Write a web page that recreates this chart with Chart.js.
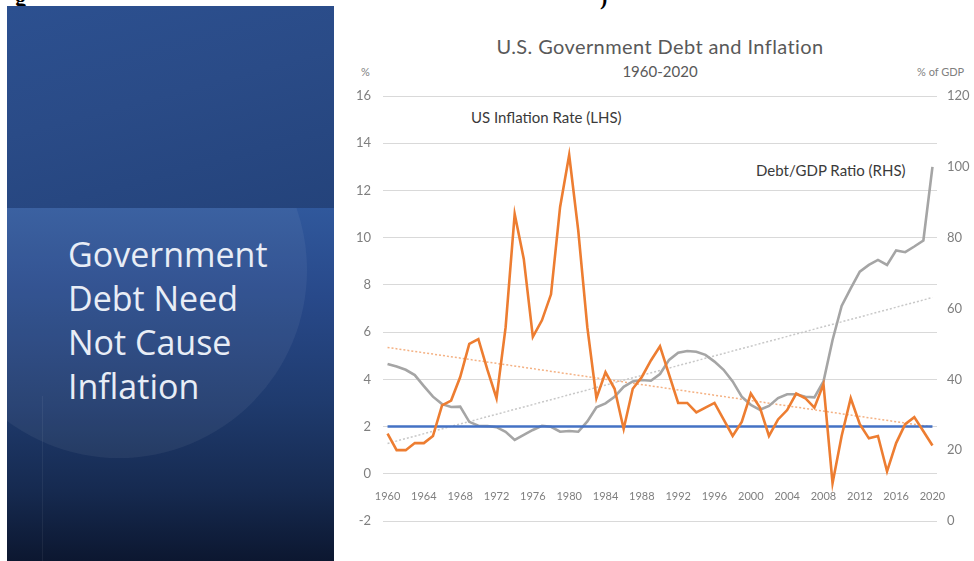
<!DOCTYPE html>
<html>
<head>
<meta charset="utf-8">
<title>U.S. Government Debt and Inflation</title>
<script src="https://cdn.jsdelivr.net/npm/chart.js@4.4.1/dist/chart.umd.min.js"></script>
<style>
    html, body { margin: 0; padding: 0; background: #fff; }
    body { width: 974px; height: 561px; position: relative; overflow: hidden; font-family: Lato, 'Open Sans', sans-serif; }
    .frag { position: absolute; top: -15px; font: bold 22px 'Liberation Serif', serif; color: #000; }
    .slide { position: absolute; left: 7px; top: 6px; width: 327px; height: 555px; overflow: hidden; }
    .slide .upper { position: absolute; left: 0; top: 0; width: 100%; height: 202px;
        background: linear-gradient(165deg, #2c5090 0%, #2a4b87 45%, #24437b 100%); }
    .slide .lower { position: absolute; left: 0; top: 202px; width: 100%; height: 353px; overflow: hidden;
        background: linear-gradient(to bottom, #30589c 0%, #28498a 25%, #1f3b6e 55%, #162a50 80%, #0c1730 100%); }
    .slide .circle { position: absolute; left: -76px; top: -126px; width: 376px; height: 376px; border-radius: 50%;
        background: rgba(255, 255, 255, 0.055); }
    .slide .strip { position: absolute; left: 35px; top: 390px; width: 1px; height: 165px;
        background: rgba(255, 255, 255, 0.06); }
    .slide-title { position: absolute; left: 61px; top: 226px; color: #e8edf6;
        font: 34px/44px 'Open Sans', sans-serif; }
    .txt { position: absolute; white-space: nowrap; }
    .title { left: 660px; top: 34px; transform: translateX(-50%); font-size: 20px; letter-spacing: 0.4px; color: #595959; }
    .subtitle { left: 660px; top: 62px; transform: translateX(-50%); font-size: 15px; color: #595959; }
    .unit { font-size: 11px; color: #7f7f7f; top: 65px; }
    .note { font-size: 15px; color: #3a3a3a; }
    #chartBox { position: absolute; left: 340px; top: 0; width: 634px; height: 561px; }
</style>
</head>
<body>
<div class="frag" style="left: 15px;">g</div>
<div class="frag" style="left: 600px;">)</div>

<div class="slide">
    <div class="upper"></div>
    <div class="lower"><div class="circle"></div></div>
    <div class="strip"></div>
    <div class="slide-title">Government<br>Debt Need<br>Not Cause<br>Inflation</div>
</div>

<div class="txt title">U.S. Government Debt and Inflation</div>
<div class="txt subtitle">1960-2020</div>
<div class="txt unit" style="left: 361px;">%</div>
<div class="txt unit" style="left: 917px;">% of GDP</div>
<div class="txt note" style="left: 471px; top: 108px;">US Inflation Rate (LHS)</div>
<div class="txt note" style="left: 756px; top: 161px;">Debt/GDP Ratio (RHS)</div>

<div id="chartBox"><canvas id="debt-inflation" width="634" height="561"></canvas></div>

<script>
// years on the category axis, 1960 .. 2020
const years = Array.from({ length: 61 }, (_, i) => String(1960 + i));

// annual CPI inflation, %
const inflationRate = [
    1.7, 1.0, 1.0, 1.3, 1.3, 1.6, 2.9, 3.1, 4.1, 5.5,
    5.7, 4.4, 3.2, 6.2, 11.0, 9.1, 5.8, 6.5, 7.6, 11.3,
    13.5, 10.3, 6.2, 3.2, 4.3, 3.6, 1.9, 3.6, 4.1, 4.8,
    5.4, 4.2, 3.0, 3.0, 2.6, 2.8, 3.0, 2.3, 1.6, 2.2,
    3.4, 2.8, 1.6, 2.3, 2.7, 3.4, 3.2, 2.8, 3.8, -0.4,
    1.6, 3.2, 2.1, 1.5, 1.6, 0.1, 1.3, 2.1, 2.4, 1.8,
    1.2
];

// federal debt held by the public, % of GDP
const debtToGdp = [
    44.3, 43.6, 42.7, 41.2, 38.1, 35.1, 33.0, 32.2, 32.3, 28.0,
    26.9, 26.8, 26.5, 25.2, 22.9, 24.3, 25.7, 26.9, 26.6, 25.2,
    25.4, 25.2, 28.1, 32.1, 33.2, 35.1, 37.9, 39.4, 39.8, 39.6,
    41.5, 45.5, 47.5, 48.0, 47.8, 46.9, 45.0, 42.7, 39.4, 35.1,
    32.8, 31.4, 32.5, 34.7, 35.8, 35.8, 35.1, 34.9, 39.4, 51.1,
    60.7, 65.7, 70.4, 72.3, 73.7, 72.3, 76.4, 75.9, 77.5, 79.2,
    100.0
];

// linear trend lines, value at 1960 and at 2020
const inflationTrendEnds = [5.35, 1.98];
const debtTrendEnds = [21.9, 63.1];

// 2% inflation target
const targetRate = 2;

const leftTicks = [-2, 16, 2];    // min, max, step
const rightTicks = [0, 120, 20];

function trendSeries(ends) {
    return years.map((_, i) => i === 0 ? ends[0] : (i === years.length - 1 ? ends[1] : null));
}

const tickFont = { family: 'Lato', size: 13 };

new Chart(document.getElementById('debt-inflation').getContext('2d'), {
    type: 'line',
    data: {
        labels: years,
        datasets: [
            {
                label: 'US Inflation Rate (LHS)',
                data: inflationRate,
                yAxisID: 'y',
                borderColor: '#ED7D31',
                borderWidth: 2.6,
                order: 1
            },
            {
                label: 'Target',
                data: years.map(() => targetRate),
                yAxisID: 'y',
                borderColor: '#4472C4',
                borderWidth: 2.6,
                order: 2
            },
            {
                label: 'Debt/GDP Ratio (RHS)',
                data: debtToGdp,
                yAxisID: 'y1',
                borderColor: '#A5A5A5',
                borderWidth: 2.6,
                order: 3
            },
            {
                label: 'Inflation trend',
                data: trendSeries(inflationTrendEnds),
                yAxisID: 'y',
                borderColor: '#F4B183',
                borderWidth: 1.5,
                borderDash: [2, 2],
                spanGaps: true,
                order: 4
            },
            {
                label: 'Debt trend',
                data: trendSeries(debtTrendEnds),
                yAxisID: 'y1',
                borderColor: '#C8C8C8',
                borderWidth: 1.5,
                borderDash: [2, 2],
                spanGaps: true,
                order: 5
            }
        ]
    },
    options: {
        responsive: false,
        animation: false,
        layout: { padding: { top: 96, bottom: 40, left: 0, right: 0 } },
        elements: { point: { radius: 0 }, line: { tension: 0 } },
        plugins: { legend: { display: false }, tooltip: { enabled: false } },
        scales: {
            x: {
                type: 'category',
                offset: true,
                position: { y: 0 },
                grid: { display: false },
                border: { display: false },
                ticks: {
                    autoSkip: false,
                    maxRotation: 0,
                    padding: 8,
                    color: '#7f7f7f',
                    font: { family: 'Lato', size: 11 },
                    callback: (val, i) => i % 4 === 0 ? years[i] : ''
                }
            },
            y: {
                position: 'left',
                min: leftTicks[0],
                max: leftTicks[1],
                ticks: { stepSize: leftTicks[2], padding: 12, color: '#7f7f7f', font: tickFont },
                grid: { color: '#D9D9D9', lineWidth: 1, drawTicks: false },
                border: { display: false },
                afterFit: (scale) => { scale.width = 43; }
            },
            y1: {
                position: 'right',
                min: rightTicks[0],
                max: rightTicks[1],
                ticks: { stepSize: rightTicks[2], padding: 10, color: '#7f7f7f', font: tickFont },
                grid: { display: false, drawTicks: false },
                border: { display: false },
                afterFit: (scale) => { scale.width = 37; }
            }
        }
    }
});
</script>
</body>
</html>
